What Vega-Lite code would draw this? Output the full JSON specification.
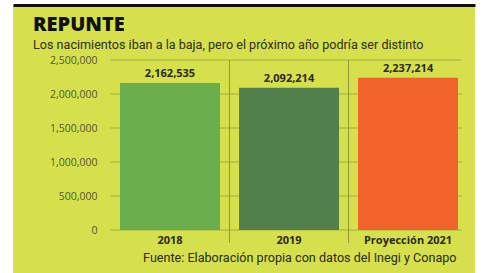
{
  "$schema": "https://vega.github.io/schema/vega-lite/v6.json",
  "width": 462,
  "height": 268,
  "autosize": {"type": "none"},
  "padding": {"left": 13, "top": 5, "right": 19, "bottom": 0},
  "background": "white",
  "config": {
    "view": {"fill": "#d5e04c", "stroke": null},
    "font": "Open Sans"
  },
  "title": {
    "text": "REPUNTE",
    "subtitle": "Los nacimientos iban a la baja, pero el próximo año podría ser distinto",
    "anchor": "start",
    "frame": "group",
    "dx": 20,
    "offset": -47,
    "font": "Open Sans",
    "fontSize": 20,
    "fontWeight": 800,
    "color": "#111111",
    "subtitleFont": "Roboto",
    "subtitleFontSize": 12.6,
    "subtitleColor": "#2d2d1f",
    "subtitlePadding": 4
  },
  "datasets": {
    "births": [
      {"cat": "2018", "nac": 2162535},
      {"cat": "2019", "nac": 2092214},
      {"cat": "Proyección 2021", "nac": 2237214}
    ],
    "ticks": [
      {"v": 0}, {"v": 500000}, {"v": 1000000}, {"v": 1500000}, {"v": 2000000}, {"v": 2500000}
    ]
  },
  "resolve": {"axis": {"x": "shared", "y": "shared"}},
  "layer": [
    {
      "data": {"name": "ticks"},
      "mark": {"type": "rule", "color": "#a4ae3c", "strokeWidth": 1},
      "encoding": {
        "y": {"field": "v", "type": "quantitative"},
        "x": {"datum": "2018", "type": "nominal", "bandPosition": 0},
        "x2": {"datum": "Proyección 2021", "bandPosition": 0.95}
      }
    },
    {
      "data": {"name": "births"},
      "transform": [{"filter": "datum.cat != '2018'"}],
      "mark": {"type": "rule", "color": "#8f9a36", "strokeWidth": 1},
      "encoding": {
        "x": {"field": "cat", "type": "nominal", "bandPosition": 0},
        "y": {"datum": 2500000},
        "y2": {"datum": -190000}
      }
    },
    {
      "data": {"name": "births"},
      "mark": {"type": "bar", "width": {"band": 0.84}},
      "encoding": {
        "x": {
          "field": "cat",
          "type": "nominal",
          "sort": null,
          "scale": {"type": "band", "domain": ["2018", "2019", "Proyección 2021"], "paddingInner": 0, "paddingOuter": 0.441, "align": 0.929},
          "axis": {
            "orient": "bottom",
            "offset": -43,
            "bandPosition": 0.5,
            "domain": false,
            "ticks": false,
            "labelPadding": 10,
            "labelAngle": 0,
            "labelAlign": "center",
            "labelFont": "Open Sans",
            "labelFontSize": 11,
            "labelFontWeight": "bold",
            "labelColor": "#2a2a20",
            "title": "Fuente: Elaboración propia con datos del Inegi y Conapo",
            "titleFont": "Roboto",
            "titleFontSize": 12.6,
            "titleFontWeight": "normal",
            "titleColor": "#2a2a20",
            "titleAlign": "right",
            "titleAnchor": "end",
            "titleX": 443,
            "titlePadding": 6
          }
        },
        "y": {
          "field": "nac",
          "type": "quantitative",
          "scale": {"domain": [-632353, 3308824], "nice": false, "zero": false},
          "axis": {
            "orient": "left",
            "offset": -87,
            "values": [0, 500000, 1000000, 1500000, 2000000, 2500000, 3308824],
            "labelExpr": "datum.value > 3000000 ? '' : format(datum.value, ',')",
            "domain": false,
            "ticks": false,
            "labelPadding": 3,
            "labelFont": "Open Sans",
            "labelFontSize": 10.5,
            "labelColor": "#55553a",
            "grid": true,
            "gridColor": {"condition": {"test": "datum.value > 3000000", "value": "#111111"}, "value": "transparent"},
            "gridWidth": {"condition": {"test": "datum.value > 3000000", "value": 3}, "value": 0},
            "title": null
          }
        },
        "color": {
          "field": "cat",
          "type": "nominal",
          "scale": {"domain": ["2018", "2019", "Proyección 2021"], "range": ["#6aae4d", "#52804c", "#f0632a"]},
          "legend": null
        }
      }
    },
    {
      "data": {"name": "births"},
      "mark": {"type": "text", "baseline": "bottom", "dy": -4, "font": "Open Sans", "fontSize": 11, "fontWeight": "bold", "color": "#2a2a20"},
      "encoding": {
        "x": {"field": "cat", "type": "nominal"},
        "y": {"field": "nac", "type": "quantitative"},
        "text": {"field": "nac", "type": "quantitative", "format": ","}
      }
    }
  ]
}
